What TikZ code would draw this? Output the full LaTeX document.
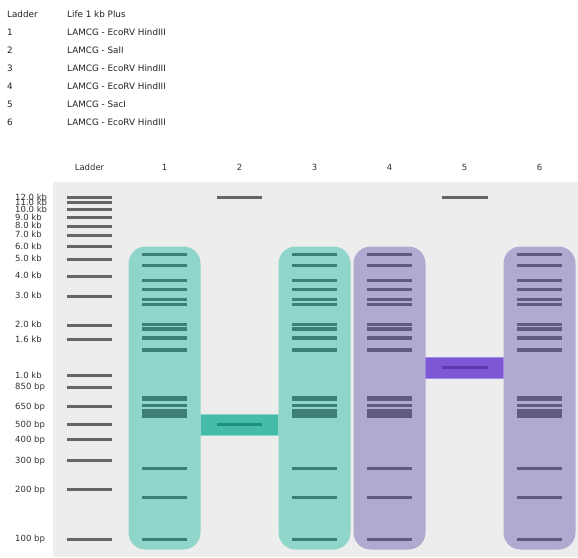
\documentclass[tikz,border=0pt]{standalone}
\usepackage{fontspec}
\setmainfont{DejaVu Sans}
\definecolor{gelbg}{HTML}{EDEDED}
\definecolor{ladderband}{HTML}{666666}
\definecolor{tealpill}{HTML}{8FD5CA}
\definecolor{tealband}{HTML}{3D7F74}
\definecolor{tealbar}{HTML}{45BCA9}
\definecolor{tealbarband}{HTML}{1F8F7E}
\definecolor{lavpill}{HTML}{B0A9D0}
\definecolor{lavband}{HTML}{5E5A80}
\definecolor{purpbar}{HTML}{7D57D5}
\definecolor{purpbarline}{HTML}{A08AE0}
\definecolor{purpband}{HTML}{5A3BB0}
\definecolor{labeltext}{HTML}{333333}
\definecolor{legtext}{HTML}{222222}
\begin{document}
\begin{tikzpicture}[x=1pt,y=-1pt,
  txt/.style={font=\fontsize{8.5}{10}\selectfont, text=labeltext, inner sep=0pt},
  legtxt/.style={font=\fontsize{8.8}{10}\selectfont, text=legtext, inner sep=0pt, anchor=base west},
  pill/.style={rounded corners=17pt}]
\useasboundingbox (0,0) rectangle (578,557);
\fill[white] (0,0) rectangle (578,557);

% legend
\foreach \k/\v [count=\i] in {Ladder/Life 1 kb Plus, 1/LAMCG - EcoRV HindIII, 2/LAMCG - SalI, 3/LAMCG - EcoRV HindIII, 4/LAMCG - EcoRV HindIII, 5/LAMCG - SacI, 6/LAMCG - EcoRV HindIII}{
  \node[legtxt] (legk\i) at (7,{17.5+18*(\i-1)}) {\k};
  \node[legtxt] (legv\i) at (67,{17.5+18*(\i-1)}) {\v};
}

% headers
\node[txt, anchor=base] (hLadder) at (89.5,170.3) {Ladder};
\foreach \i in {1,...,6}{
  \node[txt, anchor=base] (h\i) at ({164.5+75*(\i-1)},170.3) {\i};
}

% gel background
\fill[gelbg] (52.5,181.5) rectangle (578,557);

% ladder
\foreach \y/\l [count=\i] in {197.7/12.0 kb, 202.7/11.0 kb, 209.3/10.0 kb, 217.3/9.0 kb, 226/8.0 kb, 235/7.0 kb, 246.3/6.0 kb, 259/5.0 kb, 276/4.0 kb, 296/3.0 kb, 325/2.0 kb, 339.3/1.6 kb, 375.3/1.0 kb, 387/850 bp, 406.3/650 bp, 424.3/500 bp, 439.7/400 bp, 460.3/300 bp, 489.3/200 bp, 539/100 bp}{
  \fill[ladderband] (67,\y-1.5) rectangle (112,\y+1.5);
  \node[txt, anchor=base west] (lab\i) at (15,\y+2.9) {\l};
}

% pills
\foreach \c/\pc/\bc in {164.5/tealpill/tealband, 314.5/tealpill/tealband, 389.5/lavpill/lavband, 539.5/lavpill/lavband}{
  \fill[\pc, pill] (\c-36,246.5) rectangle (\c+36,549.5);
  \foreach \y/\h in {254.5/3, 265.5/3, 280.5/3, 289.5/3, 299.5/3, 304.5/3, 324.5/3, 329/4, 338/4, 350/4, 398.3/4.5, 405.5/3, 413.5/9, 468.3/3, 497.3/3, 539.3/3}{
    \fill[\bc] (\c-22.5,\y-\h/2) rectangle (\c+22.5,\y+\h/2);
  }
}

% lane 2
\fill[tealbar, draw=tealpill, line width=0.7pt] (200.5,414.5) rectangle (278.5,435);
\fill[tealbarband] (217,422.8) rectangle (262,425.8);
\fill[ladderband] (217,196.2) rectangle (262,199.2);

% lane 5
\fill[purpbar, draw=purpbarline, line width=0.7pt] (425.5,357.5) rectangle (503.5,378.5);
\fill[purpband] (442,366.3) rectangle (487.5,369.3);
\fill[ladderband] (442,196.2) rectangle (487.5,199.2);
\end{tikzpicture}
\end{document}
